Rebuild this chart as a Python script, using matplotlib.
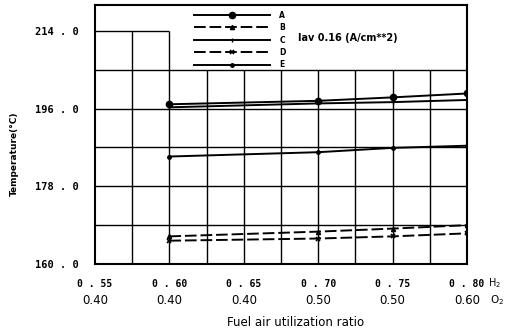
import matplotlib
matplotlib.use('Agg')
import matplotlib.pyplot as plt
import numpy as np

# datos
h2_ratio = [0.60, 0.70, 0.75, 0.80]
temp_a = [197.0, 197.8, 198.6, 199.5]
temp_b = [166.4, 167.5, 168.2, 169.0]
temp_c = [196.3, 197.2, 197.5, 198.0]
temp_d = [165.4, 165.9, 166.4, 167.1]
temp_e = [184.9, 185.9, 186.9, 187.4]

x_ticks = [0.55, 0.60, 0.65, 0.70, 0.75, 0.80]
o2_labels = ['0.40', '0.40', '0.40', '0.50', '0.50', '0.60']
y_ticks = [160.0, 178.0, 196.0, 214.0]

def espaciado(s):
    # "214.0" -> "214 . 0", como en el original
    a, b = s.split('.')
    return a + ' . ' + b

fig = plt.figure(figsize=(5.16, 3.30), dpi=100)
ax = fig.add_axes([95/516, 1-264/330, 372/516, 259/330])
ax.set_xlim(0.55, 0.80)
ax.set_ylim(160, 220)

# rejilla a mano (la parte de arriba queda tapada por la leyenda)
gk = dict(color='black', lw=1.0, zorder=1)
for xv in np.arange(0.575, 0.79, 0.025):
    ax.vlines(xv, 160, 214 if xv < 0.61 else 205, **gk)
for yv in [169, 178, 187, 196, 205]:
    ax.hlines(yv, 0.55, 0.80, **gk)
ax.hlines(214, 0.55, 0.60, **gk)

lk = dict(color='black', lw=1.4, zorder=3)
ax.plot(h2_ratio, temp_a, '-', marker='o', ms=4.5, label='A', **lk)
ax.plot(h2_ratio, temp_b, '--', marker='^', ms=3, dashes=(6, 2), label='B', **lk)
ax.plot(h2_ratio, temp_c, '-', marker='|', ms=3, label='C', **lk)
ax.plot(h2_ratio, temp_d, '--', marker='x', ms=3.5, mew=1.2, dashes=(6, 2), label='D', **lk)
ax.plot(h2_ratio, temp_e, '-', marker='o', ms=2.5, label='E', **lk)

for s in ax.spines.values():
    s.set_linewidth(1.5)

ax.set_yticks(y_ticks)
ax.set_yticklabels([espaciado('%.1f' % v) for v in y_ticks], family='DejaVu Sans Mono',
                   fontsize=7.5, fontweight='bold')
ax.set_xticks(x_ticks)
ax.set_xticklabels([espaciado('%.2f' % v) for v in x_ticks], family='DejaVu Sans Mono',
                   fontsize=7, fontweight='bold')
ax.tick_params(axis='y', length=0, pad=12)
ax.tick_params(axis='x', length=0, pad=11)

tr = ax.get_xaxis_transform()
for xv, lab in zip(x_ticks, o2_labels):
    ax.text(xv, -0.14, lab, transform=tr, ha='center', va='center', fontsize=8.5)
ax.text(0.8185, -0.073, 'H$_2$', transform=tr, ha='center', va='center', fontsize=7)
ax.text(0.8205, -0.14, 'O$_2$', transform=tr, ha='center', va='center', fontsize=7.5)

ax.set_xlabel('Fuel air utilization ratio', fontsize=8.5)
ax.xaxis.set_label_coords(0.54, -0.2)
ax.set_ylabel('Temperature(°C)', fontsize=6.5, fontweight='bold')
ax.yaxis.set_label_coords(-0.205, 0.425)

leg = ax.legend(loc='upper left', bbox_to_anchor=(0.265, 0.978), frameon=False,
                fontsize=5.5, handlelength=10, handletextpad=1.2, labelspacing=0.45,
                borderpad=0, borderaxespad=0, numpoints=1)
for t in leg.get_texts():
    t.set_fontweight('bold')
ax.text(0.546, 0.873, 'Iav 0.16 (A/cm**2)', transform=ax.transAxes, fontsize=7,
        fontweight='bold', va='center')

fig.savefig('out.png', dpi=100)
